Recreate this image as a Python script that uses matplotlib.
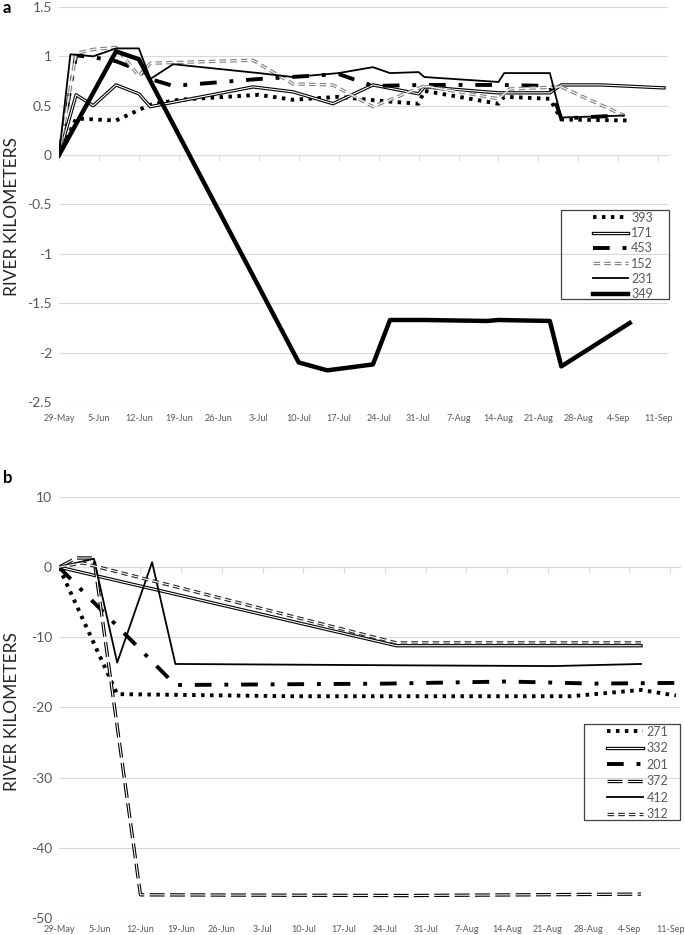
import numpy as np
import pandas as pd
import matplotlib
matplotlib.use("Agg")
import matplotlib.pyplot as plt
import matplotlib.dates as mdates
from matplotlib.patches import Rectangle
from matplotlib.ticker import FuncFormatter, NullFormatter

plt.rcParams['font.family'] = ['Lato', 'DejaVu Sans']
plt.rcParams['axes.unicode_minus'] = False

YEAR = "2019-"

# ---- panel a : tag, dates (MM-DD), river km ----
a_labels = ["393", "171", "453", "152", "231", "349"]
a_styles = ["dotted", "double", "dashdot", "dashdouble_gray", "thin", "thick"]

a393_dates = ["05-29", "06-01", "06-08", "06-14", "06-19", "07-03", "07-09", "07-17", "07-24",
              "07-31", "08-01", "08-14", "08-15", "08-23", "08-25", "09-06"]
a393_vals = [0, 0.37, 0.35, 0.51, 0.56, 0.61, 0.56, 0.59, 0.55, 0.52, 0.65, 0.52, 0.59, 0.57, 0.36, 0.35]

a171_dates = ["05-29", "06-01", "06-04", "06-08", "06-12", "06-14", "07-02", "07-09", "07-16",
              "07-23", "07-31", "08-01", "08-14", "08-23", "08-25", "09-01", "09-12"]
a171_vals = [0, 0.61, 0.50, 0.71, 0.62, 0.49, 0.69, 0.64, 0.52, 0.71, 0.62, 0.69, 0.63, 0.63, 0.71, 0.71, 0.68]

a453_dates = ["05-29", "06-01", "06-04", "06-08", "06-12", "06-14", "06-18", "07-03", "07-17",
              "07-23", "08-01", "08-14", "08-23", "08-25", "09-04"]
a453_vals = [0, 1.01, 0.99, 0.95, 0.86, 0.77, 0.70, 0.77, 0.82, 0.70, 0.71, 0.71, 0.70, 0.37, 0.40]

a152_dates = ["05-29", "06-01", "06-04", "06-08", "06-12", "06-14", "07-02", "07-09", "07-16",
              "07-23", "08-01", "08-14", "08-16", "08-25", "09-05"]
a152_vals = [0, 1.03, 1.07, 1.09, 0.80, 0.93, 0.96, 0.72, 0.71, 0.49, 0.70, 0.57, 0.67, 0.69, 0.40]

a231_dates = ["05-29", "05-31", "06-04", "06-08", "06-12", "06-14", "06-18", "07-03", "07-09",
              "07-17", "07-23", "07-26", "07-31", "08-01", "08-14", "08-15", "08-23", "08-25", "09-05"]
a231_vals = [0, 1.02, 1.00, 1.08, 1.08, 0.77, 0.92, 0.83, 0.79, 0.83, 0.89, 0.83, 0.84, 0.79,
             0.74, 0.83, 0.83, 0.38, 0.40]

a349_dates = ["05-29", "06-08", "06-12", "07-10", "07-15", "07-23", "07-26", "08-01", "08-12",
              "08-14", "08-23", "08-25", "09-06"]
a349_vals = [0, 1.05, 0.97, -2.10, -2.18, -2.12, -1.67, -1.67, -1.68, -1.67, -1.68, -2.14, -1.70]

# ---- panel b ----
b_labels = ["271", "332", "201", "372", "412", "312"]
b_styles = ["dotted", "double", "dashdot", "longdashdouble", "thin", "dashdouble"]

b271_dates = ["05-29", "06-08", "07-08", "08-25", "09-06", "09-12"]
b271_vals = [0, -18.1, -18.4, -18.4, -17.5, -18.3]

b332_dates = ["05-29", "07-26", "09-06"]
b332_vals = [0, -11.2, -11.2]

b201_dates = ["05-29", "06-18", "07-24", "08-14", "08-29", "09-12"]
b201_vals = [0, -16.8, -16.6, -16.3, -16.6, -16.5]

b372_dates = ["05-29", "06-01", "06-04", "06-12", "07-28", "09-06"]
b372_vals = [0, 1.3, 1.3, -46.7, -46.8, -46.6]

b412_dates = ["05-29", "06-04", "06-08", "06-14", "06-18", "07-28", "08-22", "09-06"]
b412_vals = [0, 1.2, -13.6, 0.7, -13.8, -14.0, -14.1, -13.8]

b312_dates = ["05-29", "06-02", "07-26", "09-06"]
b312_vals = [0, 0.6, -10.8, -10.8]

a_series = [(a393_dates, a393_vals), (a171_dates, a171_vals), (a453_dates, a453_vals),
            (a152_dates, a152_vals), (a231_dates, a231_vals), (a349_dates, a349_vals)]
b_series = [(b271_dates, b271_vals), (b332_dates, b332_vals), (b201_dates, b201_vals),
            (b372_dates, b372_vals), (b412_dates, b412_vals), (b312_dates, b312_vals)]

GRID = "#d9d9d9"
TXT = "#595959"


def to_dates(days):
    return pd.to_datetime([YEAR + d for d in days])


def draw(ax, dates, vals, style):
    x = to_dates(dates)
    if style == "dotted":
        h, = ax.plot(x, vals, color="black", lw=2.8, ls=(0, (0.9, 1.4)))
        return h
    if style == "dashdot":
        h, = ax.plot(x, vals, color="black", lw=2.8, ls=(0, (4.3, 3.3, 1, 3.3)))
        return h
    if style == "thin":
        h, = ax.plot(x, vals, color="black", lw=1.3)
        return h
    if style == "thick":
        h, = ax.plot(x, vals, color="black", lw=3.2)
        return h
    # double lines: dark line with a white core on top
    if style == "double":
        h1, = ax.plot(x, vals, color="black", lw=2.4)
    elif style == "dashdouble_gray":
        h1, = ax.plot(x, vals, color="#808080", lw=2.4, ls=(0, (2.0, 1.2)))
    elif style == "dashdouble":
        h1, = ax.plot(x, vals, color="#262626", lw=2.4, ls=(0, (2.0, 1.2)))
    else:  # longdashdouble
        h1, = ax.plot(x, vals, color="black", lw=2.4, ls=(0, (4.5, 1.6)))
    h2, = ax.plot(x, vals, color="white", lw=0.8)
    return (h1, h2)


def style_axes(ax, ylim, step, zero_frac, xpad):
    start = pd.Timestamp("2019-05-29")
    ticks = pd.date_range("2019-05-29", "2019-09-11", freq="7D")
    nums = mdates.date2num(ticks)
    ax.set_xlim(mdates.date2num(start), mdates.date2num(start + pd.Timedelta(days=106.7)))
    ax.set_xticks(nums)
    ax.set_xticklabels([f"{t.day}-{t.strftime('%b')}" for t in ticks])
    ax.set_ylim(*ylim)
    ax.set_yticks(np.arange(ylim[0], ylim[1] + step / 2, step))
    ax.yaxis.set_major_formatter(FuncFormatter(lambda v, p: f"{v:g}"))
    for s in ax.spines.values():
        s.set_visible(False)
    ax.tick_params(axis="x", length=0, labelsize=6.5, labelcolor=TXT, pad=xpad)
    ax.tick_params(axis="y", length=0, labelsize=10, labelcolor=TXT, pad=5)
    ax.yaxis.grid(True, color=GRID, lw=0.8)
    ax.set_axisbelow(True)
    # horizontal axis line at zero with tick marks
    sec = ax.secondary_xaxis(zero_frac)
    sec.set_alignment("bottom")
    sec.set_xticks(nums)
    sec.xaxis.set_major_formatter(NullFormatter())
    sec.spines["bottom"].set_color(GRID)
    sec.spines["bottom"].set_linewidth(0.8)
    sec.tick_params(axis="x", color=GRID, length=4, width=0.8, direction="out")


fig = plt.figure(figsize=(6.85, 9.35), dpi=100)
ax_a = fig.add_axes([0.0861, 0.5701, 0.8891, 0.4225])
ax_b = fig.add_axes([0.0861, 0.0182, 0.9066, 0.4503])

ha = [draw(ax_a, d, v, s) for (d, v), s in zip(a_series, a_styles)]
hb = [draw(ax_b, d, v, s) for (d, v), s in zip(b_series, b_styles)]

style_axes(ax_a, (-2.5, 1.5), 0.5, 0.625, 9)
style_axes(ax_b, (-50, 10), 10, 50 / 60, 5)

leg_kw = dict(loc="upper left", frameon=False, fontsize=9, borderpad=0, borderaxespad=0,
              handletextpad=0.25, labelcolor=TXT, bbox_transform=fig.transFigure)
ax_a.legend(ha, a_labels, bbox_to_anchor=(0.8657, 0.7735), handlelength=2.8,
            labelspacing=0.26, **leg_kw)
ax_b.legend(hb, b_labels, bbox_to_anchor=(0.8861, 0.2240), handlelength=2.9,
            labelspacing=0.36, **leg_kw)
fig.add_artist(Rectangle((0.8190, 0.6802), 0.1577, 0.0952, transform=fig.transFigure,
                         fill=False, edgecolor="#404040", lw=0.9))
fig.add_artist(Rectangle((0.8526, 0.1230), 0.1401, 0.1027, transform=fig.transFigure,
                         fill=False, edgecolor="#404040", lw=0.9))

fig.text(12 / 685, 0.768, "RIVER KILOMETERS", rotation=90, ha="center", va="center",
         fontsize=12.5, color="#262626")
fig.text(12 / 685, 0.2385, "RIVER KILOMETERS", rotation=90, ha="center", va="center",
         fontsize=12.5, color="#262626")
fig.text(0.004, 1 - 8 / 935, "a", fontsize=12, fontweight="bold", ha="left", va="center")
fig.text(0.004, 1 - 478 / 935, "b", fontsize=12, fontweight="bold", ha="left", va="center")

fig.savefig("out.png", dpi=100)
